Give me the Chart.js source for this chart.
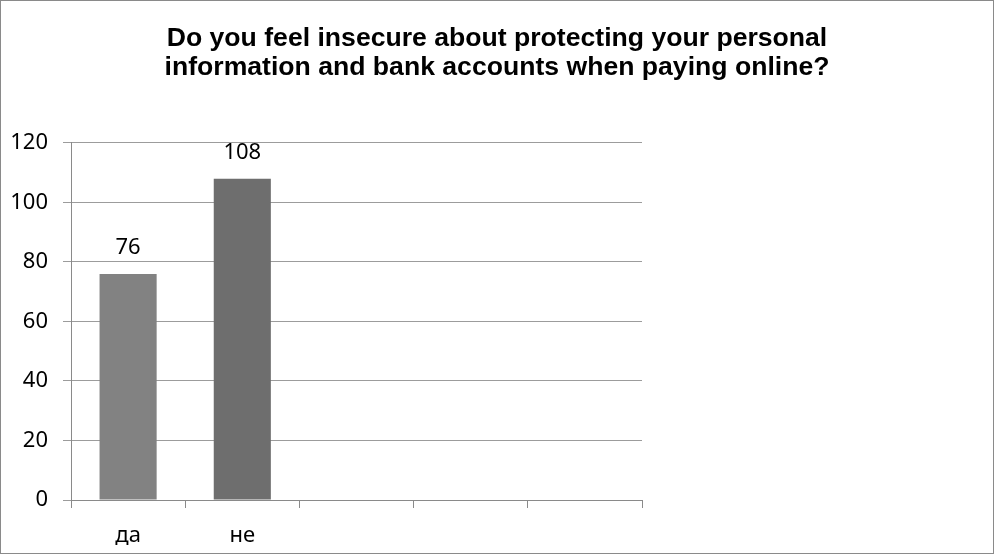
<!DOCTYPE html>
<html>
<head>
<meta charset="utf-8">
<title>Insecure paying online</title>
<script src="https://cdn.jsdelivr.net/npm/chart.js@4/dist/chart.umd.min.js"></script>
<style>
    html, body { margin: 0; padding: 0; background: #fff; }
    #wrap { width: 994px; height: 554px; }
</style>
</head>
<body>
<div id="wrap"><canvas id="surveyChart" width="994" height="554"></canvas></div>
<script>
// ==========================================
// Data
// ==========================================
var categories = ['да', 'не', '', '', ''];
var answerCounts = [76, 108, null, null, null];
var barColors = ['#828282', '#6e6e6e', '#828282', '#828282', '#828282'];
var titleLines = [
    'Do you feel insecure about protecting your personal',
    'information and bank accounts when paying online?'
];
var yMin = 0;
var yMax = 120;
var yStep = 20;

var labelFont = { family: "'Noto Sans', sans-serif", size: 22 };

// ==========================================
// Plugins
// ==========================================

// thin grey frame round the whole picture
var framePlugin = {
    id: 'frame',
    afterDraw: function(chart) {
        var ctx = chart.ctx;
        ctx.save();
        ctx.strokeStyle = '#8a8a8a';
        ctx.lineWidth = 1;
        ctx.strokeRect(0.5, 0.5, chart.width - 1, chart.height - 1);
        ctx.restore();
    }
};

// value written above each bar
var valueLabelPlugin = {
    id: 'valueLabels',
    afterDatasetsDraw: function(chart) {
        var ctx = chart.ctx;
        var meta = chart.getDatasetMeta(0);
        ctx.save();
        ctx.font = labelFont.size + 'px ' + labelFont.family;
        ctx.fillStyle = '#000';
        ctx.textAlign = 'center';
        ctx.textBaseline = 'middle';
        meta.data.forEach(function(bar, i) {
            var v = answerCounts[i];
            if (v === null || v === undefined) return;
            ctx.fillText(String(v), bar.x, bar.y - 26);
        });
        ctx.restore();
    }
};

// ==========================================
// Chart
// ==========================================
new Chart(document.getElementById('surveyChart'), {
    type: 'bar',
    data: {
        labels: categories,
        datasets: [{
            data: answerCounts,
            backgroundColor: barColors,
            borderWidth: 0,
            categoryPercentage: 0.5,
            barPercentage: 1.0
        }]
    },
    options: {
        responsive: false,
        animation: false,
        layout: { padding: 0 },
        plugins: {
            legend: { display: false },
            tooltip: { enabled: false },
            title: {
                display: true,
                text: titleLines,
                color: '#000',
                font: { family: "'Liberation Sans', Arial, sans-serif", weight: 'bold', size: 26.6, lineHeight: 1.09 },
                padding: { top: 24, bottom: 61 }
            }
        },
        scales: {
            x: {
                afterFit: function(scale) { scale.height = 54; },
                grid: {
                    drawOnChartArea: false,
                    drawTicks: true,
                    tickLength: 8,
                    color: '#8a8a8a'
                },
                border: { color: '#8a8a8a', width: 1 },
                ticks: { color: '#000', font: labelFont, padding: 15, maxRotation: 0 }
            },
            y: {
                min: yMin,
                max: yMax,
                afterFit: function(scale) { scale.width = 71; },
                grid: { color: '#9c9c9c', tickLength: 8 },
                border: { color: '#8a8a8a', width: 1 },
                ticks: { stepSize: yStep, color: '#000', font: labelFont, padding: 15 }
            },
            // empty space on the right of the plot, kept by an invisible axis
            spacer: {
                position: 'right',
                display: true,
                afterFit: function(scale) { scale.width = 352; },
                grid: { display: false },
                border: { display: false },
                ticks: { display: false }
            }
        }
    },
    plugins: [framePlugin, valueLabelPlugin]
});
</script>
</body>
</html>
